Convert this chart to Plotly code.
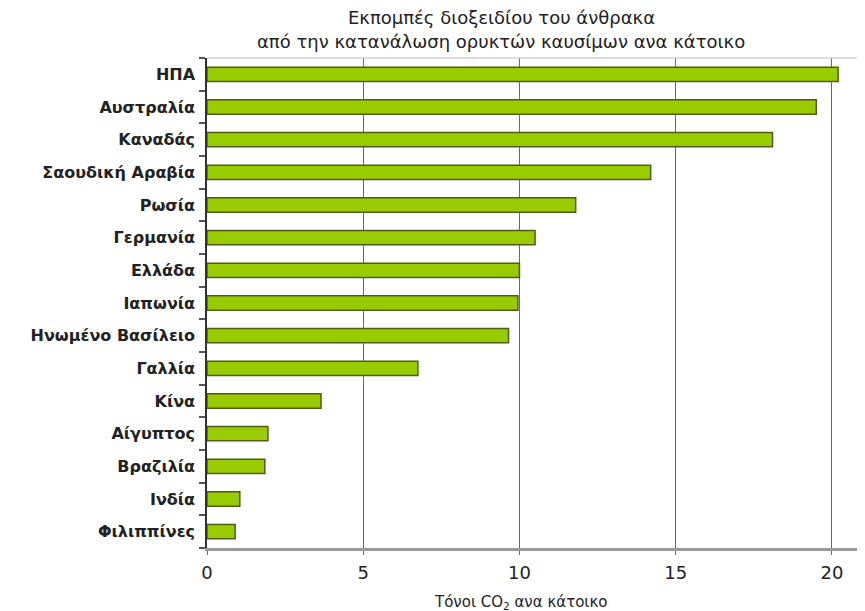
import plotly.graph_objects as go

countries = ["ΗΠΑ", "Αυστραλία", "Καναδάς", "Σαουδική Αραβία", "Ρωσία", "Γερμανία",
             "Ελλάδα", "Ιαπωνία", "Ηνωμένο Βασίλειο", "Γαλλία", "Κίνα", "Αίγυπτος",
             "Βραζιλία", "Ινδία", "Φιλιππίνες"]
values = [20.2, 19.5, 18.1, 14.2, 11.8, 10.5, 10.0, 9.95, 9.65, 6.75, 3.65, 1.95, 1.85, 1.05, 0.9]
x_ticks = [0, 5, 10, 15, 20]
title_lines = ["Εκπομπές διοξειδίου του άνθρακα",
               "από την κατανάλωση ορυκτών καυσίμων ανα κάτοικο"]
x_title = "Τόνοι CO<sub>2</sub> ανα κάτοικο"

FONT = "DejaVu Sans, Verdana, sans-serif"
# page body has an 8px margin: figure is laid out so the plot sits at screen x 207..865, y 58..548
OFF = 8
L, T = 207 - OFF, 58 - OFF
PLOT_W, PLOT_H = 658, 490
W, H = 865 - OFF, 611 - OFF
B = H - T - PLOT_H


def px_x(sx):
    return (sx - 207) / PLOT_W


def px_y(sy):
    return (548 - sy) / PLOT_H


fig = go.Figure(go.Bar(
    x=values, y=countries, orientation="h",
    marker=dict(color="#99cc00", line=dict(color="#4d5e10", width=1.5)),
    width=0.44,
))

fig.update_layout(
    width=W, height=H,
    margin=dict(l=L, r=0, t=T, b=B),
    paper_bgcolor="white", plot_bgcolor="white",
    showlegend=False,
)

for txt, ypix in zip(title_lines, [17, 41]):
    fig.add_annotation(text=txt, xref="paper", yref="paper",
                       x=px_x(501), y=px_y(ypix),
                       xanchor="center", yanchor="middle", showarrow=False,
                       font=dict(family=FONT, size=18, color="#222"))

fig.add_annotation(text=x_title, xref="paper", yref="paper",
                   x=px_x(520), y=px_y(602),
                   xanchor="center", yanchor="middle", showarrow=False,
                   font=dict(family=FONT, size=15, color="#222"))

fig.update_xaxes(
    range=[0, 21.06], tickvals=x_ticks, ticktext=[str(v) for v in x_ticks],
    showgrid=True, gridcolor="#6a6a6a", gridwidth=1.3,
    showline=True, linecolor="#9a9a9a", linewidth=2.5,
    ticks="outside", ticklen=4, tickcolor="#6a6a6a", tickwidth=1.3,
    zeroline=False, automargin=False,
    tickfont=dict(family=FONT, size=18, color="#222"),
    ticklabelstandoff=3,
)
fig.update_yaxes(
    categoryorder="array", categoryarray=countries[::-1],
    showline=True, linecolor="#333", linewidth=1.5,
    ticks="outside", tickson="boundaries", ticklen=6, tickcolor="#555", tickwidth=1.5,
    showgrid=False, automargin=False,
    tickfont=dict(family=FONT, size=16, color="#222", weight="bold"),
    ticklabelstandoff=7,
)

fig.add_shape(type="line", xref="paper", yref="paper", x0=0, x1=1, y0=1, y1=1,
              line=dict(color="#bbbbbb", width=1))

fig.write_html("out.html")
